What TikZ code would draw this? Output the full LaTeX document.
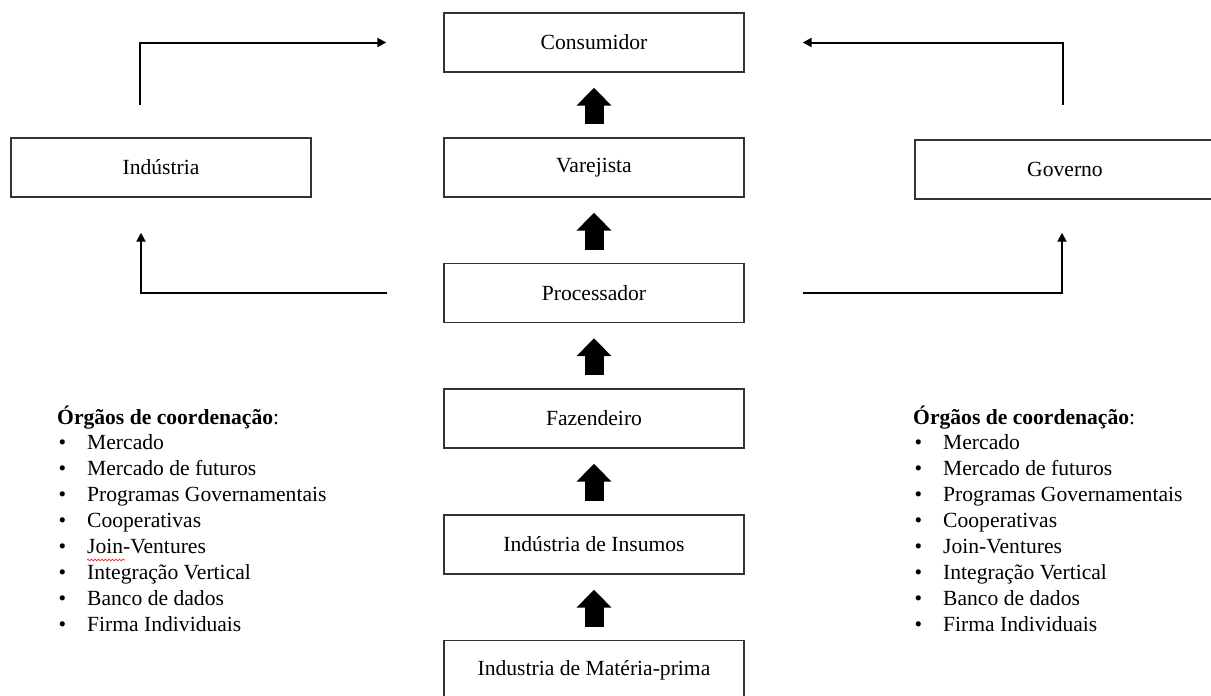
\documentclass[tikz,border=0pt]{standalone}
\usepackage{fontspec}
\setmainfont{Liberation Serif}
\usetikzlibrary{arrows.meta,calc,decorations.pathmorphing}

\begin{document}
\begin{tikzpicture}[x=1pt,y=-1pt,
  txt/.style={font=\fontsize{21.6}{25.9}\selectfont},
  box/.style={txt, draw=black!80, line width=1.4pt, minimum width=300pt,
              minimum height=59pt, inner sep=0pt},
  link/.style={line width=2pt, -{Triangle[length=9pt,width=9pt]}},
  flow/.style={line width=19pt, -{Triangle[length=18pt,width=34pt]}},
  item/.style={txt, anchor=base west, inner sep=0pt},
  spell/.style={red!85, line width=0.7pt, decorate,
                decoration={snake, amplitude=0.9pt, segment length=3.5pt}},
]
\useasboundingbox (0,0) rectangle (1211,696);
\clip (0,0) rectangle (1211,696);

% chain of agents
\node[box] (cons) at (594,42.5)  {Consumidor};
\node[box] (vare) at (594,167.5) {Varejista};
\node[box] (proc) at (594,293)   {Processador};
\node[box] (faz)  at (594,418.5) {Fazendeiro};
\node[box] (ins)  at (594,544.5) {Indústria de Insumos};
\node[box] (mat)  at (594,670)   {Industria de Matéria-prima};

% side agents
\node[box] (ind) at (161,167.5)  {Indústria};
\node[box] (gov) at (1065,169.5) {Governo};

% upward flow through the chain
\foreach \a/\b in {vare/cons, proc/vare, faz/proc, ins/faz, mat/ins}
  \draw[flow] ($(\a.north)+(0,-13)$) -- ($(\b.south)+(0,15)$);

% links with the side agents
\coordinate (tl0) at ($(ind.north)+(-21,-32)$);
\coordinate (tl1) at ($(cons.west)+(-57,0)$);
\draw[link] (tl0) |- (tl1);

\coordinate (bl0) at ($(proc.west)+(-56,0)$);
\coordinate (bl1) at ($(ind.south)+(-20,35)$);
\draw[link] (bl0) -| (bl1);

\coordinate (tr0) at ($(gov.north)+(-2,-34)$);
\coordinate (tr1) at ($(cons.east)+(58,0)$);
\draw[link] (tr0) |- (tr1);

\coordinate (br0) at ($(proc.east)+(58,0)$);
\coordinate (br1) at ($(gov.south)+(-3,33)$);
\draw[link] (br0) -| (br1);

% coordination bodies
\foreach \side/\x in {l/57, r/913} {
  \node[item] (\side h) at (\x,424) {\textbf{Órgãos de coordenação}:};
  \foreach [count=\i] \t in {Mercado, Mercado de futuros,
      Programas Governamentais, Cooperativas, Join-Ventures,
      Integração Vertical, Banco de dados, Firma Individuais}
    \node[item] (\side\i) at (\x,424+25.9*\i)
      {\makebox[30pt][l]{\hspace{1.5pt}•}\t};
}

% spelling mark under "Join"
\draw[spell] ($(l5.base west)+(30,6.5)$) -- ++(38,0);
\end{tikzpicture}
\end{document}
